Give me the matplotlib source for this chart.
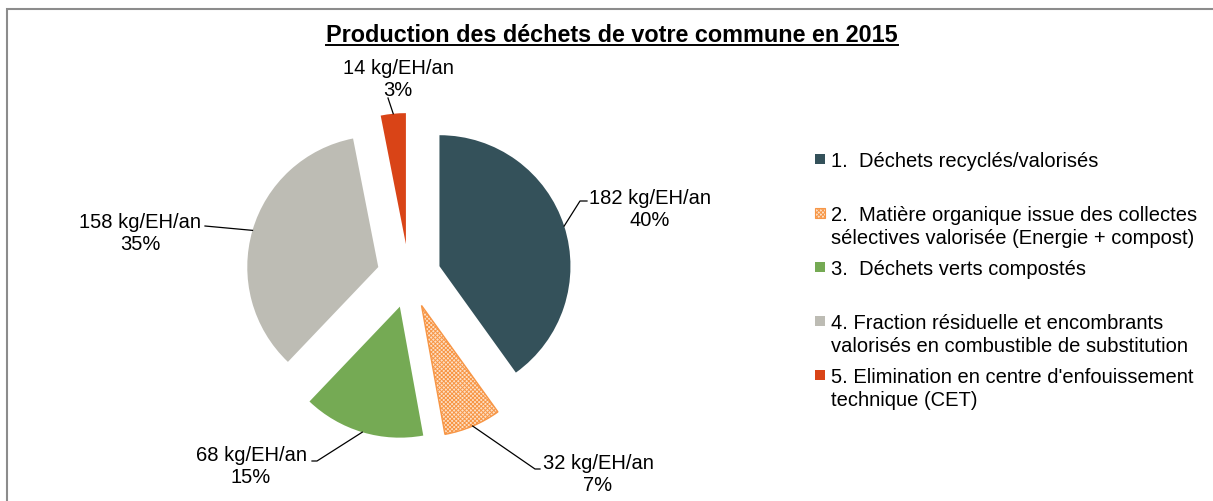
import numpy as np
import matplotlib
matplotlib.use("Agg")
import matplotlib.pyplot as plt
from matplotlib.patches import Rectangle

plt.rcParams['font.family'] = ['Liberation Sans', 'DejaVu Sans']
plt.rcParams['hatch.linewidth'] = 0.7

# données
valeurs = [182, 32, 68, 158, 14]
unite = 'kg/EH/an'
categories = ['1.  Déchets recyclés/valorisés',
              '2.  Matière organique issue des collectes\nsélectives valorisée (Energie + compost)',
              '3.  Déchets verts compostés',
              '4. Fraction résiduelle et encombrants\nvalorisés en combustible de substitution',
              "5. Elimination en centre d'enfouissement\ntechnique (CET)"]
couleurs = ['#34515A', '#FDE0C6', '#75AA54', '#BDBCB4', '#D94417']
titre = 'Production des déchets de votre commune en 2015'

W, H = 1213, 502


def px(x, y):
    # coordonnées image (origine en haut à gauche) -> axes
    return x, H - y


fig = plt.figure(figsize=(W / 100, H / 100), dpi=100)
ax = fig.add_axes([0, 0, 1, 1])

# explode en unités de données (pixels ici)
wedges, _ = ax.pie(valeurs, colors=couleurs, startangle=90, counterclock=False,
                   explode=[32] * 5, radius=131, center=px(409, 277),
                   wedgeprops=dict(linewidth=0))
wedges[1].set_edgecolor('#F79646')
wedges[1].set_hatch('xxxxxxxx')
wedges[1].set_linewidth(1.0)

ax.set_xlim(0, W)
ax.set_ylim(0, H)
ax.set_aspect('equal')
ax.axis('off')

# étiquettes de données avec traits de rappel
total = sum(valeurs)
pos_texte = [(650, 209), (598, 475), (251, 467), (140, 233), (398, 80)]
coudes = [[(580, 202), (587, 202)], [(535, 470), (540, 470)],
          [(317, 462), (312, 462)], [(205, 227)], [(388, 99)]]
for i, w in enumerate(wedges):
    a = np.deg2rad((w.theta1 + w.theta2) / 2)
    x0 = w.center[0] + w.r * np.cos(a)
    y0 = w.center[1] + w.r * np.sin(a)
    pts = [px(*p) for p in coudes[i]]
    xs = [x0] + [p[0] for p in pts]
    ys = [y0] + [p[1] for p in pts]
    ax.plot(xs, ys, color='black', lw=0.9)
    pct = round(100 * valeurs[i] / total)
    ax.text(*px(*pos_texte[i]), '%d %s\n%d%%' % (valeurs[i], unite, pct),
            ha='center', va='center', multialignment='center', fontsize=14.5)

# légende
y_leg = [160, 214, 268, 322, 376]
for i, lab in enumerate(categories):
    xm, ym = px(815, y_leg[i] + 5)
    r = Rectangle((xm, ym), 10, 10, facecolor=couleurs[i], lw=0)
    if i == 1:
        r.set_edgecolor('#F79646')
        r.set_hatch('xxxxxxxx')
        r.set_linewidth(0.8)
    ax.add_patch(r)
    ax.text(*px(831, y_leg[i] - 8), lab, ha='left', va='top', fontsize=14.5,
            linespacing=1.25)

# titre souligné
t = ax.text(*px(612, 35), titre, ha='center', va='center',
            fontsize=16.8, fontweight='bold')
fig.canvas.draw()
bb = t.get_window_extent().transformed(ax.transData.inverted())
ax.plot([bb.x0, bb.x1], [bb.y0 + 1, bb.y0 + 1], color='black', lw=1.4)

# cadre
ax.add_patch(Rectangle(px(7, H + 5), W, H - 10 + 5, fill=False,
                       edgecolor='#8C8C8C', lw=1.5, clip_on=False))

plt.savefig('out.png', dpi=100)
